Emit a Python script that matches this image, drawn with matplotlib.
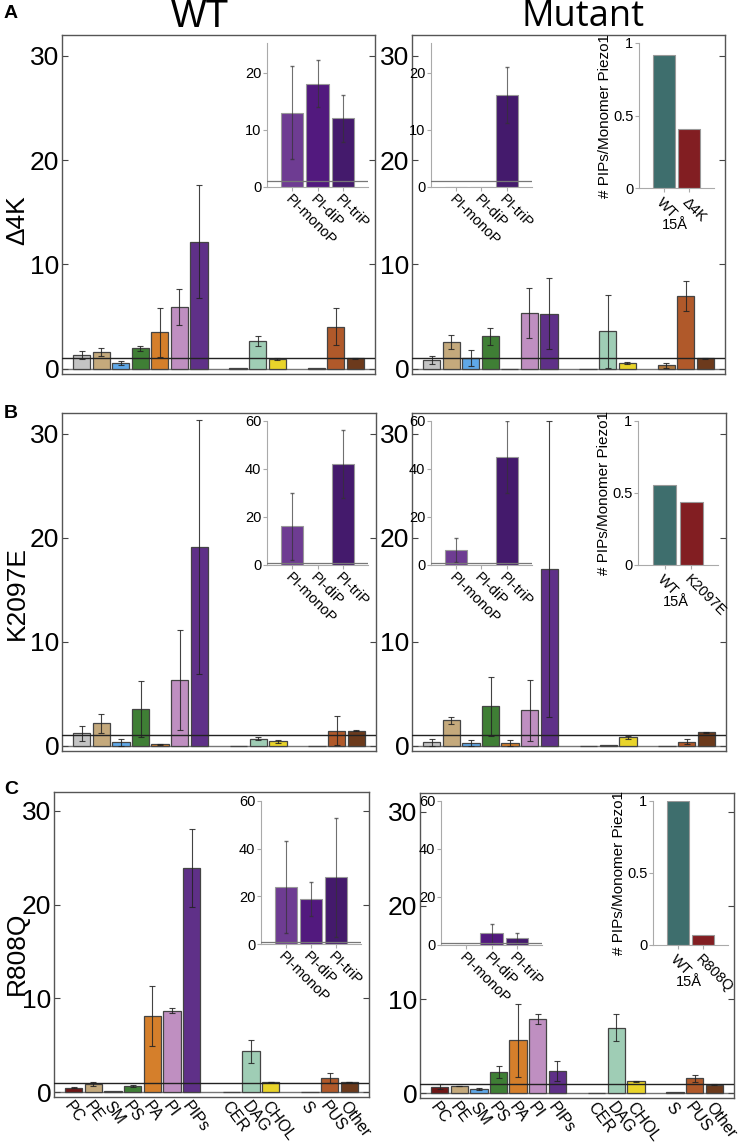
import matplotlib.pyplot as plt
import numpy as np
from matplotlib.transforms import offset_copy

plt.rcParams['font.family'] = ['Liberation Sans', 'DejaVu Sans']

W, H = 747, 1142

# categories
lipids = ['PC', 'PE', 'SM', 'PS', 'PA', 'PI', 'PIPs', 'CER', 'DAG', 'CHOL', 'S', 'PUS', 'Other']
pip_types = ['PI-monoP', 'PI-diP', 'PI-triP']
mutants = ['\u03944K', 'K2097E', 'R808Q']

# main panels: enrichment values and errors
d4k_wt = [1.34, 1.63, 0.57, 1.98, 3.48, 5.94, 12.2, 0.05, 2.68, 0.96, 0.03, 4.05, 0.99]
d4k_wt_err = [0.4, 0.4, 0.22, 0.25, 2.36, 1.75, 5.4, 0, 0.45, 0.08, 0, 1.8, 0.05]
d4k_mut = [0.86, 2.59, 1.02, 3.1, 0, 5.36, 5.3, 0, 3.6, 0.57, 0.32, 7.0, 0.99]
d4k_mut_err = [0.37, 0.67, 0.78, 0.8, 0, 2.4, 3.4, 0, 3.5, 0.1, 0.22, 1.44, 0.08]

k2097e_wt = [1.21, 2.17, 0.35, 3.55, 0.13, 6.3, 19.1, 0, 0.67, 0.45, 0, 1.47, 1.47]
k2097e_wt_err = [0.73, 0.93, 0.35, 2.7, 0.05, 4.8, 12.2, 0, 0.15, 0.15, 0, 1.4, 0.05]
k2097e_mut = [0.35, 2.46, 0.26, 3.8, 0.26, 3.42, 17.0, 0, 0.1, 0.8, 0, 0.38, 1.31]
k2097e_mut_err = [0.35, 0.35, 0.25, 2.85, 0.3, 2.95, 14.2, 0, 0, 0.1, 0, 0.25, 0.05]

r808q_wt = [0.5, 0.92, 0.14, 0.68, 8.1, 8.7, 23.9, 0.02, 4.37, 1.1, 0.02, 1.53, 1.1]
r808q_wt_err = [0.05, 0.2, 0, 0.15, 3.2, 0.3, 4.2, 0, 1.25, 0.05, 0, 0.5, 0.05]
r808q_mut = [0.71, 0.78, 0.5, 2.27, 5.64, 7.94, 2.38, 0.02, 6.99, 1.28, 0.18, 1.6, 0.89]
r808q_mut_err = [0.25, 0.05, 0.1, 0.65, 3.9, 0.55, 1.1, 0, 1.43, 0.08, 0, 0.4, 0.05]

# PIP subtype insets
d4k_pip_wt = [13.0, 18.1, 12.06]
d4k_pip_wt_err = [8.1, 4.05, 4.1]
d4k_pip_mut = [0, 0, 16.1]
d4k_pip_mut_err = [0, 0, 4.9]
k2097e_pip_wt = [16.1, 0, 42.1]
k2097e_pip_wt_err = [14.1, 0, 14.0]
k2097e_pip_mut = [6.1, 0, 45.1]
k2097e_pip_mut_err = [5.0, 0, 15.0]
r808q_pip_wt = [24.0, 18.8, 28.0]
r808q_pip_wt_err = [19.3, 7.2, 25.0]
r808q_pip_mut = [0, 4.9, 2.8]
r808q_pip_mut_err = [0, 4.0, 2.1]

# PIPs per monomer at 15 A
d4k_count = [0.915, 0.41]
k2097e_count = [0.553, 0.4375]
r808q_count = [1.0, 0.072]

xpos = [0, 1, 2, 3, 4, 5, 6, 8, 9, 10, 12, 13, 14]
base_colors = ['#c4c4c4', '#c4a97c', '#5fa8e8', '#3f7f35', '#d57f2b', '#bf8fc1', '#5f3088',
               '#8a8a8a', '#9fcdb5', '#e9d42a', '#b0773c', '#b0592a', '#6c3a1c']
colors_c = ['#6e1616'] + base_colors[1:]
pip_colors = ['#6e3c92', '#52197e', '#441a6c']
count_colors = ['#3e6e6d', '#821e22']


def px_axes(fig, l, t, r, b):
    return fig.add_axes([l / W, 1 - b / H, (r - l) / W, (b - t) / H])


def draw_main(ax, vals, errs, colors, labels=False):
    ax.bar(xpos, vals, width=0.88, color=colors, edgecolor='#444444', linewidth=0.9, zorder=2)
    e = np.array(errs)
    m = e > 0
    ax.errorbar(np.array(xpos)[m], np.array(vals)[m], yerr=e[m], fmt='none',
                ecolor='#222222', elinewidth=0.8, capsize=2.2, capthick=0.8, alpha=0.85, zorder=3)
    ax.axhline(1, color='#222222', lw=1.0, zorder=4)
    ax.axhline(0, color='#777777', lw=1.0, zorder=1)
    ax.set_xlim(-1, 15)
    ax.set_ylim(-0.5, 32)
    ax.set_yticks([0, 10, 20, 30])
    ax.tick_params(axis='y', direction='in', left=True, right=True, length=4,
                   labelsize=19, color='#444444', pad=2)
    for s in ax.spines.values():
        s.set_color('#555555')
        s.set_linewidth(1.0)
    ax.set_xticks(xpos)
    if labels:
        ax.set_xticklabels(lipids, rotation=-53, ha='left', va='top', rotation_mode='anchor',
                           fontsize=11.5)
        ax.tick_params(axis='x', length=0, pad=1)
    else:
        ax.set_xticklabels([])
        ax.tick_params(axis='x', length=0)


def draw_pip(ax, vals, errs, ymax, ticks):
    ax.bar(range(3), vals, width=0.88, color=pip_colors, edgecolor='#999999', linewidth=0.8, zorder=2)
    e = np.array(errs)
    m = e > 0
    ax.errorbar(np.arange(3)[m], np.array(vals)[m], yerr=e[m], fmt='none',
                ecolor='#333333', elinewidth=0.8, capsize=1.5, alpha=0.7, zorder=3)
    ax.axhline(1, color='#777777', lw=0.9, zorder=4)
    ax.set_xlim(-1, 3)
    ax.set_ylim(0, ymax)
    ax.set_yticks(ticks)
    ax.set_xticks(range(3))
    ax.set_xticklabels(pip_types, rotation=-45, ha='left', va='top', rotation_mode='anchor', fontsize=10.5)
    ax.tick_params(labelsize=10.5, length=3, color='#aaaaaa', pad=1)
    ax.patch.set_alpha(0)
    for s in ['top', 'right']:
        ax.spines[s].set_visible(False)
    for s in ['left', 'bottom']:
        ax.spines[s].set_color('#aaaaaa')


def draw_count(ax, vals, name):
    ax.bar(range(2), vals, width=0.88, color=count_colors, edgecolor='#999999', linewidth=0.8)
    ax.set_xlim(-1, 2)
    ax.set_ylim(0, 1)
    ax.set_yticks([0, 0.5, 1])
    ax.set_yticklabels(['0', '0.5', '1'])
    ax.set_xticks(range(2))
    ax.set_xticklabels(['WT', name], rotation=-45, ha='left', va='top', rotation_mode='anchor',
                       fontsize=10)
    # 15A label sits at a fixed distance under the axis
    tr = offset_copy(ax.get_xaxis_transform(), fig=ax.figure, x=-2, y=-37, units='dots')
    ax.text(0.5, 0, '15\u00c5', transform=tr, fontsize=10.5, ha='center', va='center')
    ax.set_ylabel('# PIPs/Monomer Piezo1', fontsize=11, labelpad=1)
    ax.tick_params(labelsize=10.5, length=3, color='#aaaaaa', pad=1)
    ax.tick_params(axis='x', pad=2)
    ax.patch.set_alpha(0)
    for s in ['top', 'right']:
        ax.spines[s].set_visible(False)
    for s in ['left', 'bottom']:
        ax.spines[s].set_color('#aaaaaa')


fig = plt.figure(figsize=(W / 100, H / 100), dpi=100)

rows = [
    (d4k_wt, d4k_wt_err, d4k_mut, d4k_mut_err, d4k_pip_wt, d4k_pip_wt_err, d4k_pip_mut, d4k_pip_mut_err, d4k_count),
    (k2097e_wt, k2097e_wt_err, k2097e_mut, k2097e_mut_err, k2097e_pip_wt, k2097e_pip_wt_err,
     k2097e_pip_mut, k2097e_pip_mut_err, k2097e_count),
    (r808q_wt, r808q_wt_err, r808q_mut, r808q_mut_err, r808q_pip_wt, r808q_pip_wt_err,
     r808q_pip_mut, r808q_pip_mut_err, r808q_count),
]
main_wt_box = [(62, 35, 375, 374), (62, 413, 376, 751), (54, 792, 369, 1097)]
main_mut_box = [(412, 35, 725, 374), (412, 413, 726, 751), (420, 793, 734, 1098)]
pip_wt_box = [(267, 43, 368, 187), (267, 421, 368, 565), (261, 801, 361, 944)]
pip_mut_box = [(431, 43, 532, 187), (431, 421, 532, 565), (441, 801, 542, 945)]
count_box = [(639, 43, 714, 188), (638, 421, 718, 565), (653, 801, 728, 945)]
pip_lims = [(25.2, [0, 10, 20]), (60, [0, 20, 40, 60]), (60, [0, 20, 40, 60])]
label_y = [220, 593, 953]
letter_y = [14, 414, 789]

for i, r in enumerate(rows):
    wt, wte, mu, mue, pw, pwe, pm, pme, cnt = r
    cols = colors_c if i == 2 else base_colors
    ax1 = px_axes(fig, *main_wt_box[i])
    draw_main(ax1, wt, wte, cols, labels=(i == 2))
    ax2 = px_axes(fig, *main_mut_box[i])
    draw_main(ax2, mu, mue, cols, labels=(i == 2))
    ymax, ticks = pip_lims[i]
    draw_pip(px_axes(fig, *pip_wt_box[i]), pw, pwe, ymax, ticks)
    draw_pip(px_axes(fig, *pip_mut_box[i]), pm, pme, ymax, ticks)
    draw_count(px_axes(fig, *count_box[i]), cnt, mutants[i])
    fig.text(17 / W, 1 - label_y[i] / H, mutants[i], rotation=90, fontsize=19,
             ha='center', va='center')
    fig.text(4 / W, 1 - letter_y[i] / H, 'ABC'[i], fontsize=14, fontweight='bold',
             ha='left', va='center')

fig.text(200 / W, 1 - 17 / H, 'WT', fontsize=27, ha='center', va='center')
fig.text(583 / W, 1 - 17 / H, 'Mutant', fontsize=26, ha='center', va='center',
         family=['Open Sans', 'DejaVu Sans'])

fig.savefig('out.png', dpi=100)
